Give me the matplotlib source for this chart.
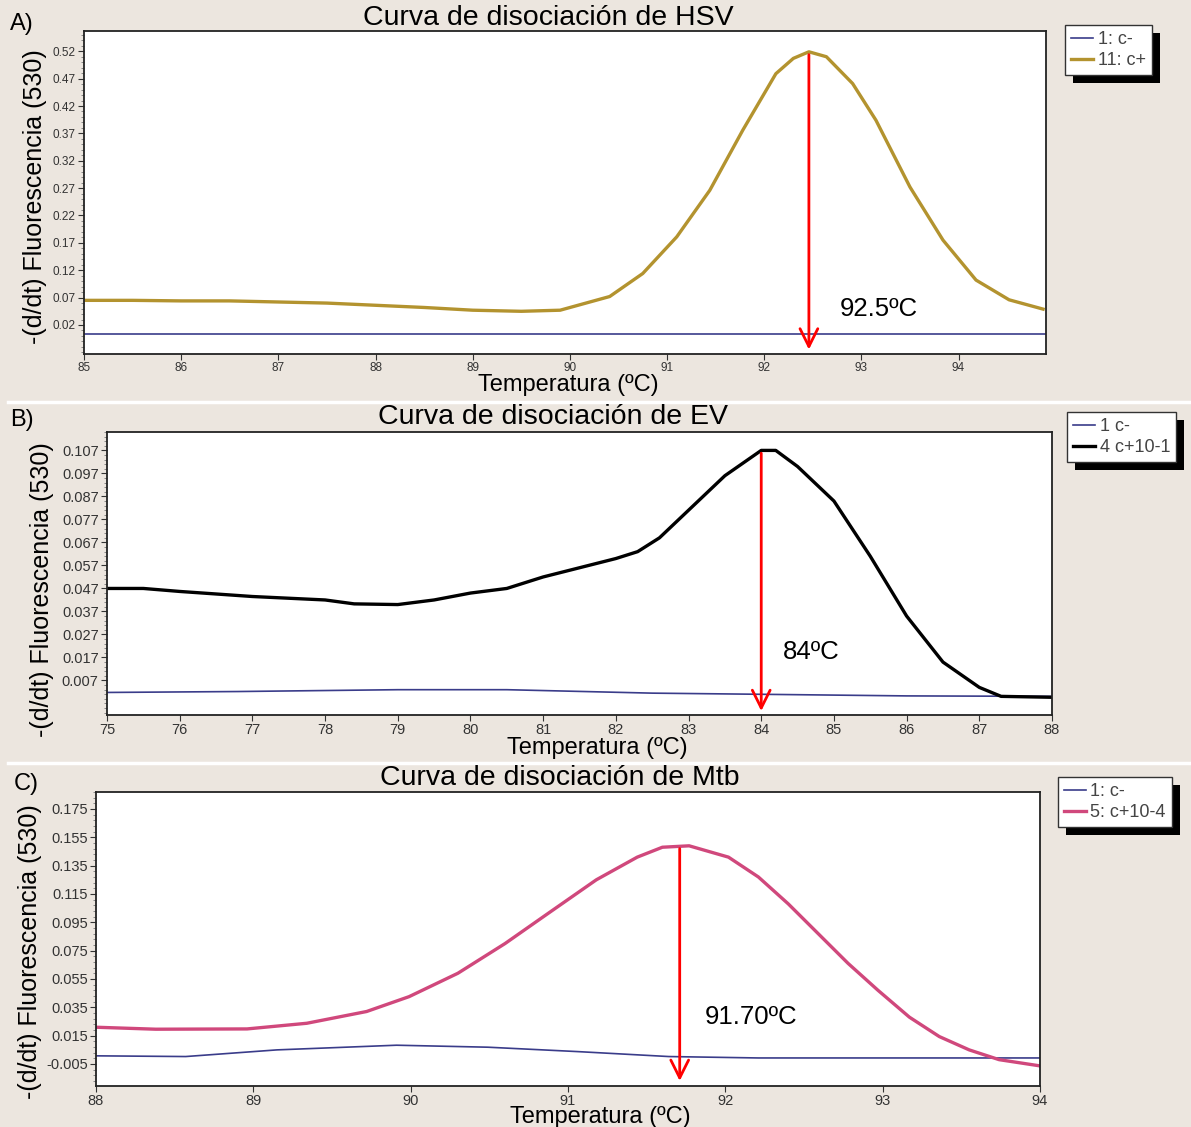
import numpy as np
import matplotlib
matplotlib.use('Agg')
import matplotlib.pyplot as plt
from matplotlib.ticker import AutoMinorLocator, FixedLocator
from matplotlib.lines import Line2D
from matplotlib.patches import Rectangle

# Panel A - HSV
hsv_t = [85, 85.5, 86, 86.5, 87, 87.5, 88, 88.5, 89, 89.5, 89.9, 90.41, 90.75,
         91.1, 91.44, 91.78, 92.12, 92.3, 92.46, 92.64, 92.91, 93.15, 93.5,
         93.84, 94.18, 94.52, 94.87]
hsv_pos = [0.065, 0.065, 0.064, 0.064, 0.062, 0.060, 0.056, 0.052, 0.047, 0.045,
           0.047, 0.072, 0.114, 0.181, 0.266, 0.376, 0.479, 0.507, 0.519, 0.510,
           0.461, 0.394, 0.272, 0.175, 0.102, 0.066, 0.049]
hsv_neg_t = [85, 94.9]
hsv_neg = [0.004, 0.004]

# Panel B - EV
ev_t = [75, 75.5, 76, 77, 78, 78.4, 79, 79.5, 80, 80.5, 81, 81.5, 82, 82.3, 82.6,
        83, 83.5, 84, 84.2, 84.5, 85, 85.5, 86, 86.5, 87, 87.3, 88]
ev_pos = [0.047, 0.047, 0.0457, 0.0435, 0.042, 0.0403, 0.040, 0.042, 0.045, 0.047,
          0.052, 0.056, 0.060, 0.063, 0.069, 0.081, 0.096, 0.107, 0.107, 0.100,
          0.085, 0.061, 0.035, 0.015, 0.004, 0.0001, -0.0003]
ev_neg_t = [75, 76.8, 79, 80.5, 82.5, 84, 86, 88]
ev_neg = [0.0018, 0.0022, 0.003, 0.003, 0.0015, 0.001, 0.0003, 0.0001]

# Panel C - Mtb
mtb_t = [88, 88.38, 88.96, 89.34, 89.72, 89.99, 90.3, 90.6, 90.87, 91.18, 91.44,
         91.6, 91.77, 92.02, 92.21, 92.4, 92.59, 92.78, 92.97, 93.17, 93.36, 93.55,
         93.74, 94]
mtb_pos = [0.0209, 0.0195, 0.0197, 0.0237, 0.032, 0.0425, 0.059, 0.080, 0.101,
           0.125, 0.141, 0.148, 0.149, 0.141, 0.127, 0.108, 0.087, 0.066, 0.047,
           0.028, 0.0143, 0.0049, -0.002, -0.0064]
mtb_neg_t = [88, 88.57, 89.15, 89.91, 90.49, 91.06, 91.64, 92.21, 94]
mtb_neg = [0.0007, 0.0002, 0.0049, 0.0082, 0.0068, 0.0037, 0.0002, -0.0008, -0.0008]

panels = [
    dict(letter='A)', title='Curva de disociación de HSV', rect=(84, 31, 1046, 354),
         xlim=(85, 94.9), ylim=(-0.033, 0.557), xticks=range(85, 95),
         yticks=np.arange(0.02, 0.53, 0.05), yfmt='{:.2f}', tick_fs=8.5,
         neg=(hsv_neg_t, hsv_neg, '1: c-'), pos=(hsv_t, hsv_pos, '11: c+'),
         color='#b3932f', peak=(92.46, 0.519), bottom=-0.03,
         note='92.5ºC', note_xy=(92.78, 0.05), leg=(1065, 25), sep=402,
         title_xy=(548, 18), xlab_xy=(568, 385), ylab_xy=(35, 197), let_xy=(10, 24)),
    dict(letter='B)', title='Curva de disociación de EV', rect=(107, 432, 1052, 715),
         xlim=(75, 88), ylim=(-0.008, 0.115), xticks=range(75, 89),
         yticks=np.arange(0.007, 0.108, 0.01), yfmt='{:.3f}', tick_fs=10.5,
         neg=(ev_neg_t, ev_neg, '1 c-'), pos=(ev_t, ev_pos, '4 c+10-1'),
         color='#000000', peak=(84.0, 0.107), bottom=-0.0075,
         note='84ºC', note_xy=(84.3, 0.0195), leg=(1067, 412), sep=763,
         title_xy=(553, 417), xlab_xy=(597, 748), ylab_xy=(42, 590), let_xy=(10, 420)),
    dict(letter='C)', title='Curva de disociación de Mtb', rect=(96, 792, 1040, 1086),
         xlim=(88, 94), ylim=(-0.0206, 0.187), xticks=range(88, 95),
         yticks=np.arange(-0.005, 0.176, 0.02), yfmt='{:.3f}', tick_fs=10.5,
         neg=(mtb_neg_t, mtb_neg, '1: c-'), pos=(mtb_t, mtb_pos, '5: c+10-4'),
         color='#d0487c', peak=(91.71, 0.149), bottom=-0.019,
         note='91.70ºC', note_xy=(91.87, 0.028), leg=(1058, 777), sep=None,
         title_xy=(560, 778), xlab_xy=(600, 1117), ylab_xy=(30, 952), let_xy=(14, 784)),
]

W, H = 1191, 1127
bg = '#ece6df'
fig = plt.figure(figsize=(W / 100, H / 100), dpi=100, facecolor=bg)
plt.rcParams['font.family'] = ['Liberation Sans', 'DejaVu Sans']


def fxy(x, y):
    return x / W, 1 - y / H


legends = []
for p in panels:
    l, t, r, b = p['rect']
    ax = fig.add_axes([l / W, 1 - b / H, (r - l) / W, (b - t) / H])
    ax.plot(p['neg'][0], p['neg'][1], color='#3a3c8a', lw=1.2, label=p['neg'][2])
    ax.plot(p['pos'][0], p['pos'][1], color=p['color'], lw=2.4, label=p['pos'][2])
    ax.set_xlim(*p['xlim'])
    ax.set_ylim(*p['ylim'])
    ax.xaxis.set_major_locator(FixedLocator(list(p['xticks'])))
    ax.set_yticks(p['yticks'])
    ax.set_yticklabels([p['yfmt'].format(v) for v in p['yticks']])
    ax.yaxis.set_minor_locator(AutoMinorLocator(5))
    ax.tick_params(axis='both', labelsize=p['tick_fs'], colors='#333333', length=4,
                   direction='out', pad=2)
    ax.tick_params(axis='y', which='minor', length=2, colors='#777777')
    for s in ax.spines.values():
        s.set_linewidth(1.3)
        s.set_color('#222222')
    ax.set_facecolor('white')

    fig.text(*fxy(*p['title_xy']), p['title'], fontsize=20.5, ha='center', va='center')
    fig.text(*fxy(*p['xlab_xy']), 'Temperatura (ºC)', fontsize=17,
             ha='center', va='center')
    fig.text(*fxy(*p['ylab_xy']), '-(d/dt) Fluorescencia (530)', fontsize=18,
             ha='center', va='center', rotation=90)
    fig.text(*fxy(*p['let_xy']), p['letter'], fontsize=17, ha='left', va='center')

    px, py = p['peak']
    ax.annotate('', xy=(px, p['bottom']), xytext=(px, py),
                arrowprops=dict(arrowstyle='->', color='red', lw=2, mutation_scale=32))
    ax.text(p['note_xy'][0], p['note_xy'][1], p['note'], fontsize=18.5, va='center')

    lx, ly = p['leg']
    leg = ax.legend(loc='upper left', bbox_to_anchor=fxy(lx, ly),
                    bbox_transform=fig.transFigure, fontsize=13, frameon=True,
                    fancybox=False, edgecolor='#333333', framealpha=1,
                    handlelength=1.2, handletextpad=0.25, borderpad=0.35,
                    labelspacing=0.2, labelcolor='#444444', borderaxespad=0)
    leg.get_frame().set_linewidth(1.0)
    legends.append(leg)
    if p['sep']:
        fig.add_artist(Line2D([8 / W, 1], [1 - p['sep'] / H] * 2, color='white', lw=2.5))

# black drop shadow behind each legend box
fig.canvas.draw()
for leg in legends:
    bb = leg.get_window_extent()
    fig.add_artist(Rectangle((bb.x0 + 8, bb.y0 - 8), bb.width, bb.height,
                             transform=None, facecolor='black', edgecolor='none',
                             zorder=-1))

fig.savefig('out.png', dpi=100, facecolor=bg)
